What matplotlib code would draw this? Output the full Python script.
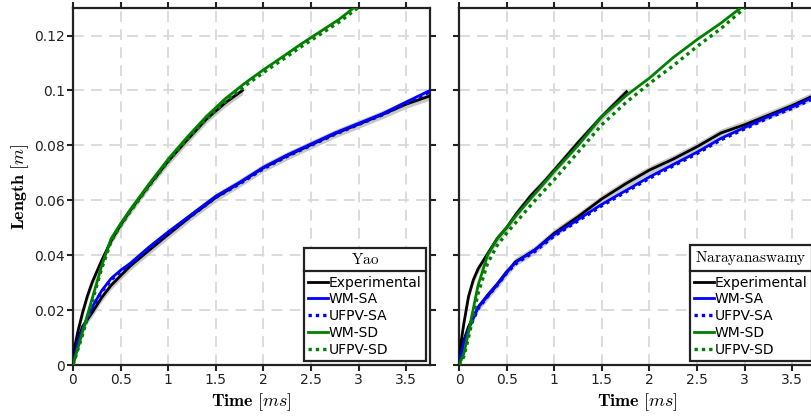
import numpy as np
import matplotlib
matplotlib.use('Agg')
import matplotlib.pyplot as plt
from matplotlib.lines import Line2D

plt.rcParams['mathtext.fontset'] = 'cm'
plt.rcParams['font.family'] = 'DejaVu Sans'

# ---- Yao panel data (time in ms, length in m) ----
yao_exp_sd_t = [0, 0.02, 0.05, 0.1, 0.15, 0.2, 0.3, 0.4, 0.5, 0.6, 0.8, 1.0, 1.2, 1.4, 1.6, 1.78]
yao_exp_sd_l = [0, 0.007, 0.012, 0.019, 0.025, 0.03, 0.038, 0.0452, 0.051, 0.0562, 0.0655, 0.0742, 0.082, 0.0895, 0.0955, 0.1]
yao_exp_sa_t = [0, 0.02, 0.05, 0.1, 0.15, 0.2, 0.3, 0.4, 0.5, 0.6, 0.8, 1.0, 1.25, 1.5, 1.75, 2.0, 2.25, 2.5, 2.75, 3.0, 3.25, 3.5, 3.75]
yao_exp_sa_l = [0, 0.005, 0.009, 0.014, 0.0165, 0.019, 0.0245, 0.029, 0.0325, 0.036, 0.0418, 0.0475, 0.0545, 0.061, 0.0663, 0.0718, 0.0762, 0.0802, 0.0842, 0.0877, 0.0912, 0.095, 0.098]

yao_sa_t = [0, 0.05, 0.1, 0.2, 0.3, 0.4, 0.5, 0.6, 0.8, 1.0, 1.25, 1.5, 1.75, 2.0, 2.25, 2.5, 2.75, 3.0, 3.25, 3.5, 3.75]
yao_wm_sa = [0, 0.008, 0.013, 0.021, 0.027, 0.0315, 0.0345, 0.037, 0.043, 0.0485, 0.055, 0.0615, 0.0665, 0.072, 0.0765, 0.0805, 0.0845, 0.088, 0.0915, 0.0958, 0.1]
yao_ufpv_sa = [0, 0.0078, 0.0128, 0.0207, 0.0266, 0.031, 0.034, 0.0366, 0.0425, 0.048, 0.0545, 0.061, 0.066, 0.0715, 0.076, 0.08, 0.084, 0.0876, 0.0911, 0.0953, 0.0995]

yao_sd_t = [0, 0.1, 0.2, 0.3, 0.4, 0.5, 0.6, 0.8, 1.0, 1.2, 1.4, 1.6, 1.8, 2.0, 2.2, 2.4, 2.6, 2.8, 3.0]
yao_wm_sd = [0, 0.012, 0.024, 0.036, 0.046, 0.0515, 0.0565, 0.066, 0.075, 0.083, 0.0905, 0.097, 0.1025, 0.1075, 0.1122, 0.117, 0.1215, 0.126, 0.1315]
yao_ufpv_sd = [0, 0.011, 0.023, 0.035, 0.045, 0.0508, 0.0558, 0.0652, 0.0742, 0.0822, 0.0895, 0.096, 0.1015, 0.1065, 0.1112, 0.116, 0.1205, 0.125, 0.1303]

# ---- Narayanaswamy panel data ----
nar_exp_sd_t = [0, 0.02, 0.05, 0.1, 0.15, 0.2, 0.3, 0.4, 0.5, 0.6, 0.75, 0.9, 1.0, 1.25, 1.5, 1.76]
nar_exp_sd_l = [0, 0.008, 0.015, 0.025, 0.031, 0.035, 0.0405, 0.046, 0.05, 0.055, 0.0615, 0.067, 0.071, 0.081, 0.0905, 0.0995]
nar_exp_sa_t = [0, 0.02, 0.05, 0.1, 0.2, 0.38, 0.59, 0.8, 1.0, 1.25, 1.5, 1.75, 2.0, 2.25, 2.5, 2.75, 3.0, 3.25, 3.5, 3.75]
nar_exp_sa_l = [0, 0.005, 0.009, 0.014, 0.021, 0.0284, 0.0375, 0.042, 0.048, 0.054, 0.0605, 0.066, 0.071, 0.075, 0.0795, 0.0845, 0.0875, 0.091, 0.0945, 0.0985]

nar_sa_t = [0, 0.05, 0.1, 0.2, 0.3, 0.4, 0.5, 0.6, 0.8, 1.0, 1.25, 1.5, 1.75, 2.0, 2.25, 2.5, 2.75, 3.0, 3.25, 3.5, 3.75]
nar_wm_sa = [0, 0.008, 0.013, 0.021, 0.0255, 0.0295, 0.034, 0.0375, 0.042, 0.0475, 0.053, 0.0585, 0.0635, 0.0685, 0.073, 0.0775, 0.0825, 0.0865, 0.0905, 0.094, 0.098]
nar_ufpv_sa = [0, 0.0078, 0.0127, 0.0205, 0.025, 0.029, 0.0335, 0.037, 0.0415, 0.047, 0.0525, 0.058, 0.063, 0.068, 0.0725, 0.077, 0.082, 0.086, 0.09, 0.0935, 0.0975]

nar_sd_t = [0, 0.05, 0.1, 0.2, 0.3, 0.4, 0.5, 0.6, 0.8, 1.0, 1.25, 1.5, 1.75, 2.0, 2.25, 2.5, 2.75, 3.0]
nar_wm_sd = [0, 0.004, 0.012, 0.029, 0.04, 0.046, 0.05, 0.0545, 0.0625, 0.0705, 0.08, 0.0905, 0.098, 0.1045, 0.112, 0.1185, 0.1245, 0.1312]
nar_ufpv_sd = [0, 0.003, 0.01, 0.026, 0.037, 0.0435, 0.048, 0.052, 0.06, 0.0675, 0.0775, 0.0875, 0.0955, 0.1025, 0.109, 0.116, 0.1225, 0.13]

band = 0.0015  # half-width of experimental scatter band

x_ticks = [0, 0.5, 1, 1.5, 2, 2.5, 3, 3.5]
x_ticklabels = ['0', '0.5', '1', '1.5', '2', '2.5', '3', '3.5']
y_ticks = [0, 0.02, 0.04, 0.06, 0.08, 0.1, 0.12]
y_ticklabels = ['0', '0.02', '0.04', '0.06', '0.08', '0.1', '0.12']

spine_col = '#222222'


def style_axes(ax, show_ylabels):
    ax.set_xlim(0, 3.75)
    ax.set_ylim(0, 0.13)
    ax.set_xticks(x_ticks)
    ax.set_xticklabels(x_ticklabels)
    ax.set_yticks(y_ticks)
    if show_ylabels:
        ax.set_yticklabels(y_ticklabels)
    else:
        ax.set_yticklabels([])
    ax.tick_params(direction='out', length=4, width=1.5, color=spine_col,
                   labelsize=10, labelcolor='#222222', top=True, right=True, pad=2)
    for s in ax.spines.values():
        s.set_color(spine_col)
        s.set_linewidth(1.6)
    ax.grid(True, color='#d9d9d9', linestyle=(0, (6, 4)), linewidth=1.3)
    ax.set_axisbelow(True)
    ax.set_xlabel(r'$\mathbf{Time}\ [ms]$', fontsize=13, labelpad=3)


def draw_panel(ax, exp_sd, exp_sa, sa, sd, title):
    for t, l in (exp_sd, exp_sa):
        t = np.array(t)
        l = np.array(l)
        ax.fill_between(t, l - band, l + band, color='#c8c8c8', lw=0, zorder=2)
    ax.plot(exp_sd[0], exp_sd[1], color='black', lw=2, zorder=3)
    ax.plot(exp_sa[0], exp_sa[1], color='black', lw=2, zorder=3, label='Experimental')
    ax.plot(sa[0], sa[1], color='#0000ff', lw=2, zorder=4, label='WM-SA')
    ax.plot(sa[0], sa[2], color='#0000ff', lw=2.4, ls=(0, (1, 1.2)), zorder=4, label='UFPV-SA')
    ax.plot(sd[0], sd[1], color='#008000', lw=2, zorder=4, label='WM-SD')
    ax.plot(sd[0], sd[2], color='#008000', lw=2.4, ls=(0, (1, 1.2)), zorder=4, label='UFPV-SD')
    leg = ax.legend(loc='lower right', title=title, fontsize=10, title_fontsize=11,
                    handlelength=1.4, handletextpad=0.1, labelspacing=0.2,
                    borderpad=0.3, borderaxespad=0.3, fancybox=False,
                    framealpha=1, edgecolor=spine_col)
    leg.get_frame().set_linewidth(1.6)
    leg._legend_box.sep = 6
    return leg


fig = plt.figure(figsize=(8.12, 4.17), dpi=100)
ax1 = fig.add_axes([0.0899, 0.1247, 0.4397, 0.856])
ax2 = fig.add_axes([0.5653, 0.1247, 0.4397, 0.856])

style_axes(ax1, True)
style_axes(ax2, False)
ax1.set_ylabel(r'$\mathbf{Length}\ [m]$', fontsize=13, labelpad=2)

leg1 = draw_panel(ax1, (yao_exp_sd_t, yao_exp_sd_l), (yao_exp_sa_t, yao_exp_sa_l),
                  (yao_sa_t, yao_wm_sa, yao_ufpv_sa), (yao_sd_t, yao_wm_sd, yao_ufpv_sd),
                  r'$\mathrm{Yao}$')
leg2 = draw_panel(ax2, (nar_exp_sd_t, nar_exp_sd_l), (nar_exp_sa_t, nar_exp_sa_l),
                  (nar_sa_t, nar_wm_sa, nar_ufpv_sa), (nar_sd_t, nar_wm_sd, nar_ufpv_sd),
                  r'$\mathrm{Narayanaswamy}$')

# separator line between legend title and entries
fig.canvas.draw()
renderer = fig.canvas.get_renderer()
inv = fig.transFigure.inverted()
for leg in (leg1, leg2):
    fb = leg.get_frame().get_window_extent()
    tb = leg._legend_title_box.get_window_extent(renderer)
    hb = leg._legend_handle_box.get_window_extent(renderer)
    y = 0.5 * (tb.y0 + hb.y1)
    (x0, yy), (x1, _) = inv.transform([(fb.x0, y), (fb.x1, y)])
    fig.add_artist(Line2D([x0, x1], [yy, yy], color=spine_col, lw=1.6, zorder=10))

fig.savefig('out.png', dpi=100)
